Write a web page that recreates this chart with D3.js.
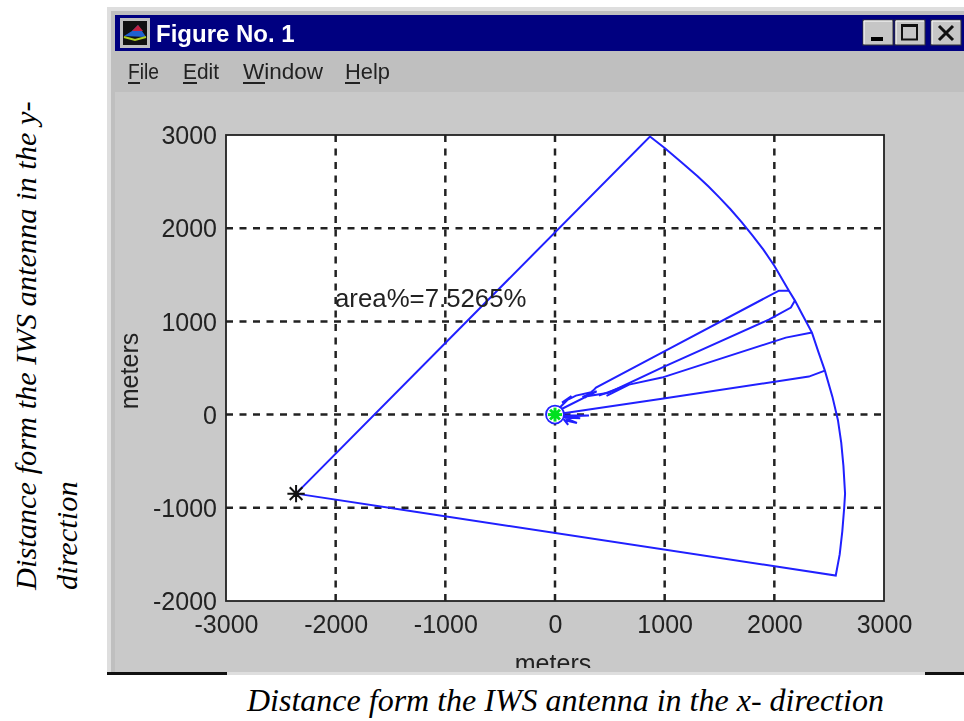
<!DOCTYPE html>
<html><head><meta charset="utf-8">
<script src="https://cdnjs.cloudflare.com/ajax/libs/d3/7.8.5/d3.min.js"></script>
<style>html,body{margin:0;padding:0;background:#fff}svg{display:block}</style>
</head><body><svg id="c" width="964" height="721"></svg>
<script>
const xTicks=[-3000,-2000,-1000,0,1000,2000,3000];
const yTicks=[-2000,-1000,0,1000,2000,3000];
const menuItems=["File","Edit","Window","Help"];
const windowTitle="Figure No. 1";
const annotation="area%=7.5265%";
const axisLabel="meters";
const sourcePoint=[-2361,-848];
const coverageOutline=[[-2361,-848],[866,2983],[1000,2860],[1150,2711],[1300,2557],[1400,2447],[1500,2328],[1600,2203],[1700,2068],[1800,1923],[1900,1770],[2000,1598],[2133,1330],[2188,1223],[2250,1085],[2343,880],[2400,679],[2461,472],[2530,190],[2580,-60],[2610,-300],[2630,-550],[2645,-848],[2637,-1000],[2620,-1250],[2596,-1500],[2560,-1727],[-2361,-848]];
const spokeA=[[2133,1330],[2042,1330],[975,665],[374,290],[350,260],[270,182],[330,240],[191,204],[64,129],[150,200],[30,60]];
const spokeB=[[2188,1223],[2151,1148],[1950,1019],[975,504],[490,235],[250,190],[380,250],[60,60]];
const spokeC=[[2343,880],[2105,826],[975,397],[675,322],[470,200],[680,325],[401,204]];
const spokeD=[[2461,472],[2315,408],[975,170],[140,25],[40,10]];
const tailE=[[60,-10],[310,-10],[90,-20],[230,-40],[80,-30],[200,-90],[90,-60],[120,-110],[80,-50]];
const markerStar=[[-22,0],[22,0],[0,0],[0,-26],[0,26],[0,0],[-16,-19],[16,19],[0,0],[-16,19],[16,-19]];

const svg=d3.select("#c");
const fig=svg.append("g").style("filter","blur(0.45px)");
const x=d3.scaleLinear().domain([-3000,3000]).range([226,884]);
const y=d3.scaleLinear().domain([-2000,3000]).range([601,135]);
const ui="'Liberation Sans',Arial,sans-serif", serif="'Liberation Serif','Times New Roman',serif";

// window chrome
fig.append("rect").attr("x",107).attr("y",7).attr("width",857).attr("height",668).attr("fill","#dedede");
fig.append("rect").attr("x",111).attr("y",11).attr("width",853).attr("height",661).attr("fill","#bfbfbf");
fig.append("rect").attr("x",115).attr("y",92).attr("width",849).attr("height",580).attr("fill","#c9c9c9");
fig.append("rect").attr("x",115).attr("y",15).attr("width",849).attr("height",36).attr("fill","#000080");
fig.append("rect").attr("x",107).attr("y",672).attr("width",120).attr("height",3).attr("fill","#111");
fig.append("rect").attr("x",925).attr("y",672).attr("width",39).attr("height",3).attr("fill","#111");
// icon
fig.append("rect").attr("x",120).attr("y",18).attr("width",30).attr("height",30).attr("fill","#bfbfbf");
fig.append("rect").attr("x",123).attr("y",21).attr("width",24).attr("height",24).attr("fill","#111");
fig.append("path").attr("d","M124 36 L132 31 L138 25 L146 37 Z").attr("fill","#2060d0");
fig.append("path").attr("d","M132 31 L138 25 L143 31 Z").attr("fill","#c02040");
fig.append("path").attr("d","M124 37 L135 40 L146 37").attr("fill","none").attr("stroke","#b0d020").attr("stroke-width",2);
fig.append("text").attr("x",156).attr("y",42).attr("font-family",ui).attr("font-weight","bold").attr("font-size",24).attr("fill","#fff").text(windowTitle);
// window buttons
[[863,30],[895,30],[931,30]].forEach(([bx,w],i)=>{
  fig.append("rect").attr("x",bx).attr("y",20).attr("width",w).attr("height",25).attr("fill","#c6c6c6").attr("stroke","#333").attr("stroke-width",1);
  fig.append("path").attr("d",`M${bx+1} 44 V21 H${bx+w-1}`).attr("fill","none").attr("stroke","#fff");
});
fig.append("rect").attr("x",871).attr("y",37).attr("width",12).attr("height",4).attr("fill","#000");
fig.append("rect").attr("x",902).attr("y",25.5).attr("width",15).attr("height",14).attr("fill","none").attr("stroke","#111").attr("stroke-width",2);
fig.append("rect").attr("x",901).attr("y",24).attr("width",17).attr("height",3).attr("fill","#111");
fig.append("path").attr("d","M939 26 L953 40 M953 26 L939 40").attr("stroke","#111").attr("stroke-width",3);
// menu
const menuX=[128,183,243,345];
const menuW=[31,36,80,45];
const accentW=[12,14,22,15];
menuItems.forEach((m,i)=>{
  fig.append("text").attr("x",menuX[i]).attr("y",79).attr("font-family",ui).attr("font-size",22).attr("fill","#222").attr("textLength",menuW[i]).attr("lengthAdjust","spacingAndGlyphs").text(m);
  fig.append("rect").attr("x",menuX[i]).attr("y",82).attr("width",accentW[i]).attr("height",2).attr("fill","#222");
});
// plot
fig.append("rect").attr("x",x(-3000)).attr("y",y(3000)).attr("width",x(3000)-x(-3000)).attr("height",y(-2000)-y(3000)).attr("fill","#fff");
const grid=fig.append("g").attr("stroke","#222").attr("stroke-width",2.5).attr("stroke-dasharray","7 6.5");
grid.selectAll(".gx").data(xTicks.slice(1,-1)).join("line").attr("x1",d=>x(d)).attr("x2",d=>x(d)).attr("y1",y(3000)).attr("y2",y(-2000));
grid.selectAll(".gy").data(yTicks.slice(1,-1)).join("line").attr("y1",d=>y(d)).attr("y2",d=>y(d)).attr("x1",x(-3000)).attr("x2",x(3000));
fig.append("rect").attr("x",x(-3000)).attr("y",y(3000)).attr("width",x(3000)-x(-3000)).attr("height",y(-2000)-y(3000)).attr("fill","none").attr("stroke","#222").attr("stroke-width",1.8);
// tick labels via axes
const ax=d3.axisBottom(x).tickValues(xTicks).tickFormat(d=>String(d)).tickSize(0).tickPadding(0);
const gx=fig.append("g").attr("transform",`translate(0,${y(-2000)+14})`).call(ax);
const ay=d3.axisLeft(y).tickValues(yTicks).tickFormat(d=>String(d)).tickSize(0).tickPadding(9);
const gy=fig.append("g").attr("transform",`translate(${x(-3000)},0)`).call(ay);
[gx,gy].forEach(g=>{g.select(".domain").remove();g.selectAll("text").attr("font-family",ui).attr("font-size",25).attr("fill","#222");});
gy.selectAll("text").attr("dy","0.35em");
// data lines
const line=d3.line().x(d=>x(d[0])).y(d=>y(d[1]));
const lines=fig.append("g").attr("fill","none").attr("stroke","#2020ff").attr("stroke-width",2);
lines.selectAll("path").data([coverageOutline,spokeA,spokeB,spokeC,spokeD,tailE]).join("path").attr("d",line);
// origin markers
fig.append("circle").attr("cx",x(0)).attr("cy",y(0)).attr("r",9).attr("fill","#fff").attr("stroke","#2020ff").attr("stroke-width",1.8);
fig.append("g").attr("stroke","#00e020").attr("stroke-width",3).selectAll("line").data([[-65,0,65,0],[0,-75,0,75],[-45,-52,45,52],[-45,52,45,-52]]).join("line")
 .attr("x1",d=>x(d[0])).attr("y1",d=>y(d[1])).attr("x2",d=>x(d[2])).attr("y2",d=>y(d[3]));
fig.append("circle").attr("cx",x(0)).attr("cy",y(0)).attr("r",4).attr("fill","#00e020");
// source star
const star=d3.line().x(d=>x(sourcePoint[0]+d[0]*3.6)).y(d=>y(sourcePoint[1]+d[1]*3.6));
fig.append("path").attr("d",star(markerStar)).attr("fill","none").attr("stroke","#111").attr("stroke-width",2);
// text
fig.append("text").attr("x",335).attr("y",307).attr("font-family",ui).attr("font-size",25.8).attr("fill","#222").text(annotation);
fig.append("text").attr("transform","translate(138,371) rotate(-90)").attr("text-anchor","middle").attr("font-family",ui).attr("font-size",25).attr("fill","#222").text(axisLabel);
fig.append("clipPath").attr("id","clipw").append("rect").attr("x",107).attr("y",600).attr("width",857).attr("height",68);
fig.append("g").attr("clip-path","url(#clipw)").append("text").attr("x",553).attr("y",672).attr("text-anchor","middle").attr("font-family",ui).attr("font-size",25).attr("fill","#222").text(axisLabel);
svg.append("text").attr("x",247).attr("y",711).attr("font-family",serif).attr("font-style","italic").attr("font-size",32).attr("fill","#000").text("Distance form the IWS antenna in the x- direction");
svg.append("text").attr("transform","translate(36,590) rotate(-90)").attr("font-family",serif).attr("font-style","italic").attr("font-size",30.4).attr("fill","#000").text("Distance form the IWS antenna in the y-");
svg.append("text").attr("transform","translate(77,590) rotate(-90)").attr("font-family",serif).attr("font-style","italic").attr("font-size",30.4).attr("fill","#000").text("direction");
</script></body></html>
